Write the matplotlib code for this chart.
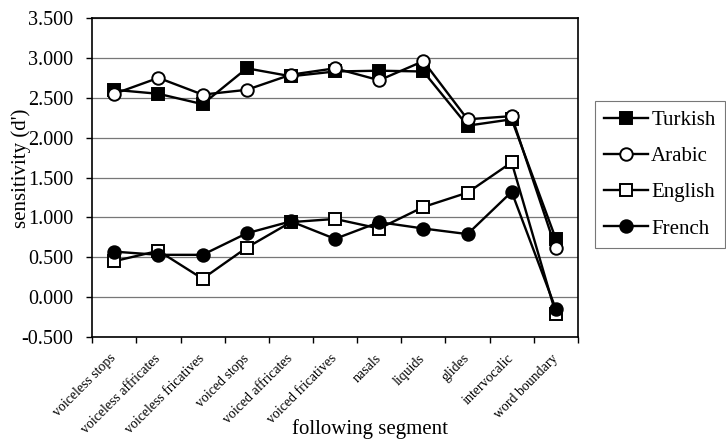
import numpy as np
import matplotlib
matplotlib.use("Agg")
import matplotlib.pyplot as plt
from matplotlib.transforms import ScaledTranslation

plt.rcParams["font.family"] = ["Liberation Serif", "DejaVu Serif"]

# ── DATA ─────────────────────────────────────────────────────────────────────
segments = ["voiceless stops", "voiceless affricates", "voiceless fricatives",
            "voiced stops", "voiced affricates", "voiced fricatives", "nasals",
            "liquids", "glides", "intervocalic", "word boundary"]
turkish = [2.60, 2.55, 2.42, 2.87, 2.77, 2.83, 2.84, 2.83, 2.15, 2.23, 0.73]
arabic  = [2.55, 2.75, 2.54, 2.60, 2.79, 2.87, 2.72, 2.96, 2.23, 2.27, 0.61]
english = [0.45, 0.58, 0.23, 0.62, 0.94, 0.98, 0.86, 1.13, 1.31, 1.69, -0.21]
french  = [0.57, 0.53, 0.53, 0.80, 0.95, 0.73, 0.94, 0.86, 0.79, 1.32, -0.15]
yticks = [-0.5, 0.0, 0.5, 1.0, 1.5, 2.0, 2.5, 3.0, 3.5]

fig = plt.figure(figsize=(7.26, 4.41), dpi=100)
ax = fig.add_axes([0.127, 0.236, 0.669, 0.723])

x = np.arange(len(segments))
styles = [
    ("Turkish", turkish, dict(marker="s", mfc="black")),
    ("Arabic",  arabic,  dict(marker="o", mfc="white")),
    ("English", english, dict(marker="s", mfc="white")),
    ("French",  french,  dict(marker="o", mfc="black")),
]
for name, vals, st in styles:
    ax.plot(x, vals, color="black", linewidth=1.7, markersize=9,
            mec="black", mew=1.4, label=name, zorder=3, **st)

ax.set_xlim(-0.5, len(segments) - 0.5)
ax.set_ylim(-0.5, 3.5)
ax.set_yticks(yticks)
ax.set_yticklabels([f"{v:.3f}" for v in yticks], fontsize=14.5)
ax.yaxis.grid(True, color="#777777", linewidth=0.9)
ax.set_axisbelow(True)

# category ticks between categories, labels at centres
ax.set_xticks(np.arange(len(segments) + 1) - 0.5)
ax.set_xticklabels([])
ax.set_xticks(x, minor=True)
ax.set_xticklabels(segments, minor=True, rotation=45, ha="right", va="center",
                   rotation_mode="anchor", fontsize=10)
shift = ScaledTranslation(-7 / 72, 0, fig.dpi_scale_trans)
for lab in ax.get_xticklabels(minor=True):
    lab.set_transform(lab.get_transform() + shift)
ax.tick_params(axis="x", which="minor", length=0, pad=14)
ax.tick_params(axis="x", which="major", length=4, width=1, direction="out")
ax.tick_params(axis="y", length=4.5, width=1, direction="out", pad=9)

for sp in ax.spines.values():
    sp.set_color("black")
    sp.set_linewidth(1.2)

ax.set_ylabel("sensitivity (d')", fontsize=15)
ax.yaxis.set_label_coords(-0.125, 0.53)
fig.text(0.51, 0.005, "following segment", fontsize=15, ha="center", va="bottom")

leg = ax.legend(loc="upper left", bbox_to_anchor=(1.035, 0.74), fontsize=15,
                frameon=True, fancybox=False, handlelength=2.1,
                handletextpad=0.15, labelspacing=0.8, borderpad=0.45,
                borderaxespad=0)
leg.get_frame().set_edgecolor("#555555")
leg.get_frame().set_linewidth(0.8)

plt.savefig("out.png", dpi=100)
plt.close()
